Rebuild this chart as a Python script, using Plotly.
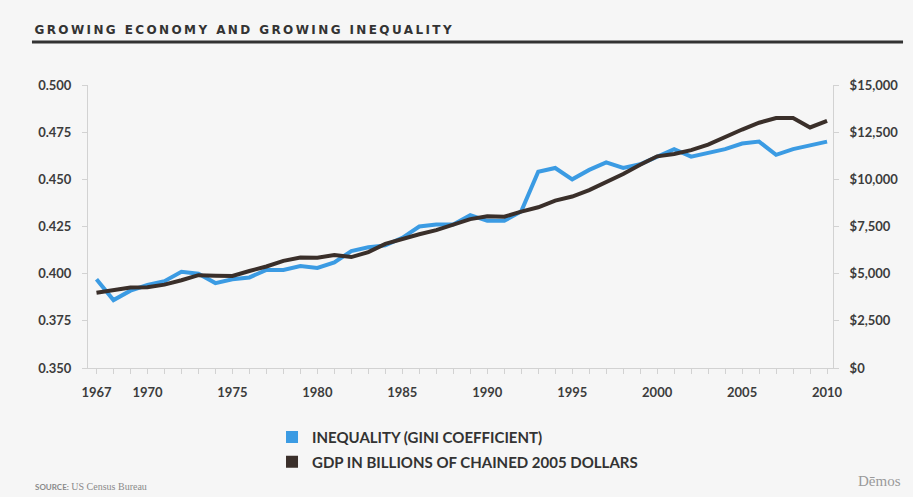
import plotly.graph_objects as go

years = list(range(1967, 2011))
gini = [0.397, 0.386, 0.391, 0.394, 0.396, 0.401, 0.400, 0.395, 0.397, 0.398,
        0.402, 0.402, 0.404, 0.403, 0.406, 0.412, 0.414, 0.415, 0.419, 0.425,
        0.426, 0.426, 0.431, 0.428, 0.428, 0.433, 0.454, 0.456, 0.450, 0.455,
        0.459, 0.456, 0.458, 0.462, 0.466, 0.462, 0.464, 0.466, 0.469, 0.470,
        0.463, 0.466, 0.468, 0.470]
gdp = [3990, 4140, 4270, 4280, 4420, 4650, 4920, 4890, 4880, 5140,
       5380, 5680, 5860, 5850, 5990, 5880, 6140, 6580, 6850, 7090,
       7310, 7610, 7890, 8040, 8020, 8290, 8520, 8870, 9090, 9430,
       9850, 10280, 10770, 11220, 11340, 11550, 11840, 12250, 12640, 13000,
       13250, 13250, 12750, 13100]

x_tickvals = [1967, 1970, 1975, 1980, 1985, 1990, 1995, 2000, 2005, 2010]
y_tickvals = [0.350, 0.375, 0.400, 0.425, 0.450, 0.475, 0.500]
y2_tickvals = [0, 2500, 5000, 7500, 10000, 12500, 15000]
y2_ticktext = ["$0", "$2,500", "$5,000", "$7,500", "$10,000", "$12,500", "$15,000"]

title_text = "GROWING ECONOMY AND GROWING INEQUALITY"
legend_names = ["INEQUALITY (GINI COEFFICIENT)", "GDP IN BILLIONS OF CHAINED 2005 DOLLARS"]

BLUE = "#3b9be3"
DARK = "#3a2f2a"
BG = "#f6f6f6"
TXT = "#3c3c3c"
AXC = "#d2d2d2"

fig = go.Figure()
fig.add_trace(go.Scatter(x=years, y=gini, mode="lines", line=dict(color=BLUE, width=4),
                         showlegend=False, yaxis="y"))
fig.add_trace(go.Scatter(x=years, y=gdp, mode="lines", line=dict(color=DARK, width=4),
                         showlegend=False, yaxis="y2"))
# legend entries as squares
fig.add_trace(go.Scatter(x=[None], y=[None], mode="markers", name=legend_names[0],
                         marker=dict(symbol="square", size=12, color=BLUE), legend="legend"))
fig.add_trace(go.Scatter(x=[None], y=[None], mode="markers", name=legend_names[1],
                         marker=dict(symbol="square", size=12, color=DARK), legend="legend2"))

tickfont = dict(family="Lato", size=13, color=TXT, weight=700)
legfont = dict(family="Lato", size=15, color="#333333", weight=700)

fig.update_layout(
    width=913, height=497,
    margin=dict(l=88, r=80, t=85, b=129),
    paper_bgcolor=BG, plot_bgcolor=BG,
    xaxis=dict(range=[1966.5, 2010.35], tickmode="array", tickvals=x_tickvals,
               ticks="outside", ticklen=5, tickcolor=AXC, showline=True, linecolor=AXC,
               linewidth=1, showgrid=False, zeroline=False, tickfont=tickfont,
               ticklabelstandoff=7,
               minor=dict(tickmode="linear", tick0=1967, dtick=1, ticks="outside",
                          ticklen=5, tickcolor=AXC, showgrid=False)),
    yaxis=dict(range=[0.35, 0.5], tickmode="array", tickvals=y_tickvals, tickformat=".3f",
               ticks="outside", ticklen=5, tickcolor=AXC, showline=True, linecolor=AXC,
               showgrid=False, zeroline=False, tickfont=tickfont, ticklabelstandoff=8),
    yaxis2=dict(range=[0, 15000], overlaying="y", side="right", tickmode="array",
                tickvals=y2_tickvals, ticktext=y2_ticktext,
                ticks="outside", ticklen=5, tickcolor=AXC, showline=True, linecolor=AXC,
                showgrid=False, zeroline=False, tickfont=tickfont, ticklabelstandoff=8),
    legend=dict(x=0.247, y=-0.186, xanchor="left", yanchor="top", bgcolor="rgba(0,0,0,0)",
                font=legfont, itemclick=False),
    legend2=dict(x=0.247, y=-0.274, xanchor="left", yanchor="top", bgcolor="rgba(0,0,0,0)",
                 font=legfont, itemclick=False),
    showlegend=True,
)

fig.add_annotation(text="<b>" + title_text + "</b>", xref="paper", yref="paper",
                   x=0.2107, y=1.194, xanchor="center", yanchor="middle", showarrow=False,
                   font=dict(family="DejaVu Sans", size=12, color="#333333"))
fig.add_shape(type="line", xref="paper", yref="paper", x0=-0.0752, x1=1.094,
              y0=1.152, y1=1.152, line=dict(color="#333333", width=3))
fig.add_annotation(text="<b><span style='font-size:8px;font-family:Lato'>SOURCE:</span></b> US Census Bureau",
                   xref="paper", yref="paper", x=-0.074, y=-0.417, xanchor="left",
                   yanchor="middle", showarrow=False,
                   font=dict(family="Liberation Serif", size=10, color="#8a8a8a"))
fig.add_annotation(text="Dēmos", xref="paper", yref="paper", x=1.094, y=-0.40,
                   xanchor="right", yanchor="middle", showarrow=False,
                   font=dict(family="Liberation Serif", size=15, color="#9a9a9a"))

post = """
document.body.style.margin = '0';
document.querySelectorAll('.annotation-text').forEach(function(t){
  if (t.textContent.indexOf('GROWING') === 0) { t.style.letterSpacing = '2.4px'; }
});
"""

fig.write_html("out.html", post_script=post, config={"displayModeBar": False})
